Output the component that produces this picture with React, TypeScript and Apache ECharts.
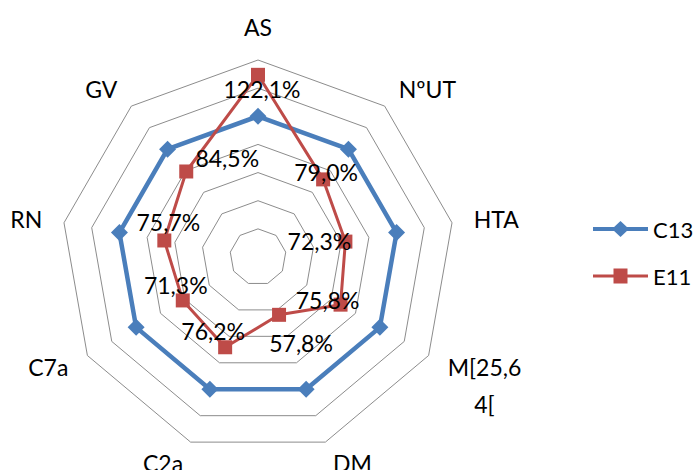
import React, { useEffect, useRef } from 'react';
import * as echarts from 'echarts';

// ---- data ----
const indicatorNames = ['AS', 'NºUT', 'HTA', 'M[25,64[', 'DM', 'C2a', 'C7a', 'RN', 'GV'];
const seriesNames = ['C13', 'E11'];
const c13Values = [100, 100, 100, 100, 100, 100, 100, 100, 100];
const e11Values = [122.1, 79.0, 72.3, 75.8, 57.8, 76.2, 71.3, 75.7, 84.5];
const axisMin = 25;
const axisMax = 130;
const axisSplits = 7;

// ---- layout / style (not data) ----
const labelOffsets: [number, number][] = [
  [4, 14], [3, -7], [-26, -1], [-13, -5], [22, 28], [-12, -16], [-7, -15], [4, -18], [41, -13],
];
const FONT = 'Lato, "Open Sans", sans-serif';
const BLUE = '#4A7EBB';
const RED = '#BE4B48';
const iconC13 = 'path://M0 6H55V10H0Z M27.5 0L36 8L27.5 16L19 8Z';
const iconE11 = 'path://M0 6.5H55V9.5H0Z M20.5 0.5H34.5V15.5H20.5Z';

const fmt = (v: number) => v.toFixed(1).replace('.', ',') + '%';

// ECharts places indicators counter-clockwise; the reference runs clockwise from the top.
const order = [0, ...indicatorNames.map((_, i) => i).slice(1).reverse()];
const pick = <T,>(arr: T[]) => order.map((i) => arr[i]);

export default function App() {
  const ref = useRef<HTMLDivElement>(null);
  useEffect(() => {
    if (!ref.current) return;
    const chart = echarts.init(ref.current, undefined, { renderer: 'svg' });
    const e11Texts = e11Values.map(fmt);
    chart.setOption({
      animation: false,
      backgroundColor: '#fff',
      legend: {
        orient: 'vertical',
        left: 593,
        top: 217,
        padding: 0,
        itemWidth: 55,
        itemHeight: 16,
        itemGap: 23,
        textStyle: { fontFamily: FONT, fontSize: 22, color: '#000', lineHeight: 24 },
        data: [
          { name: seriesNames[0], icon: iconC13 },
          { name: seriesNames[1], icon: iconE11 },
        ],
      },
      radar: {
        center: [258, 257],
        radius: 197,
        startAngle: 90,
        splitNumber: axisSplits,
        shape: 'polygon',
        nameGap: 22,
        indicator: pick(indicatorNames).map((name) => ({ name, min: axisMin, max: axisMax })),
        axisName: {
          color: '#000',
          fontFamily: FONT,
          fontSize: 23,
          formatter: (name: string) =>
            name === 'M[25,64[' ? '{e| }\n{m|M[25,6}\n{m|4[}' : name,
          rich: {
            e: { lineHeight: 37, fontSize: 23, fontFamily: FONT },
            m: { align: 'center', lineHeight: 37, fontSize: 23, fontFamily: FONT, color: '#000' },
          },
        },
        splitLine: { lineStyle: { color: '#8c8c8c', width: 1 } },
        splitArea: { show: false },
        axisLine: { show: false },
        axisTick: { show: false },
        axisLabel: { show: false },
      },
      series: [
        {
          type: 'radar',
          name: seriesNames[0],
          symbol: 'diamond',
          symbolSize: 17,
          lineStyle: { color: BLUE, width: 4.5 },
          itemStyle: { color: BLUE },
          label: { show: false },
          data: [{ name: seriesNames[0], value: pick(c13Values) }],
        },
        {
          type: 'radar',
          name: seriesNames[1],
          symbol: 'rect',
          symbolSize: 14,
          lineStyle: { color: RED, width: 3 },
          itemStyle: { color: RED },
          label: {
            show: true,
            position: 'inside',
            color: '#000',
            fontFamily: FONT,
            fontSize: 23,
            textBorderWidth: 0,
            formatter: (p: any) => fmt(Array.isArray(p.value) ? p.value[0] : p.value),
          },
          labelLayout: (p: any) => {
            const idx = e11Texts.indexOf(p.text);
            if (idx < 0) return {};
            return { dx: labelOffsets[idx][0], dy: labelOffsets[idx][1] };
          },
          data: [{ name: seriesNames[1], value: pick(e11Values) }],
        },
      ],
    });
    return () => chart.dispose();
  }, []);
  return (
    <div
      ref={ref}
      style={{ position: 'absolute', left: 0, top: 0, width: 694, height: 470, background: '#fff' }}
    />
  );
}
